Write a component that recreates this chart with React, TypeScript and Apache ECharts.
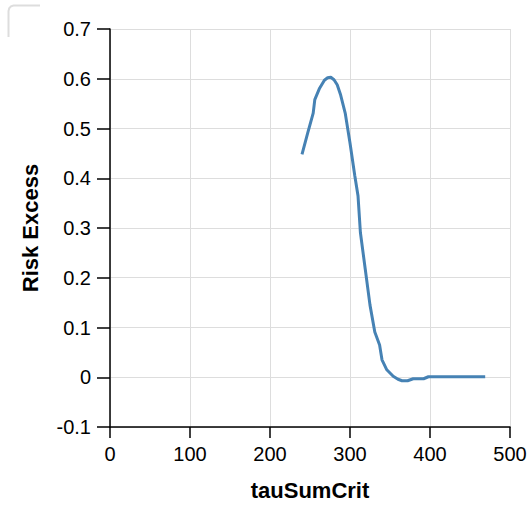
import React, { useEffect, useRef } from "react";
import * as echarts from "echarts";

const tauSumCrit = [240, 247, 254, 256, 262, 268, 272, 276, 280, 284, 288, 294, 300, 306, 310, 313, 319, 325, 331, 337, 340, 346, 354, 360, 365, 372, 379, 392, 398, 469];
const riskExcess = [0.448, 0.49, 0.531, 0.558, 0.581, 0.597, 0.602, 0.603, 0.598, 0.588, 0.569, 0.531, 0.471, 0.405, 0.365, 0.291, 0.218, 0.145, 0.091, 0.065, 0.035, 0.015, 0.002, -0.004, -0.007, -0.007, -0.003, -0.003, 0.001, 0.001];

const xTitle = "tauSumCrit";
const yTitle = "Risk Excess";

export default function App() {
  const ref = useRef<HTMLDivElement>(null);
  useEffect(() => {
    if (!ref.current) return;
    const chart = echarts.init(ref.current, null, { renderer: "svg" });
    const font = "Liberation Sans, Arial, Helvetica, sans-serif";
    chart.setOption({
      animation: false,
      grid: { left: 110, right: 22, top: 29, bottom: 77, containLabel: false },
      graphic: [
        {
          type: "polyline",
          shape: { points: [[8.5, 37], [8.5, 11], [9.2, 8.2], [11, 6.3], [13.5, 5.5], [40, 5.5]] },
          style: { stroke: "#dddddd", lineWidth: 2, fill: "none" },
        },
      ],
      xAxis: {
        type: "value",
        min: 0,
        max: 500,
        interval: 100,
        name: xTitle,
        nameLocation: "middle",
        nameGap: 63,
        nameTextStyle: { fontFamily: font, fontSize: 22, fontWeight: "bold", color: "#000", verticalAlign: "middle" },
        axisLine: { onZero: false, lineStyle: { color: "#000", width: 1.5 } },
        axisTick: { show: true, length: 11, lineStyle: { color: "#000", width: 1.5 } },
        axisLabel: { fontFamily: font, fontSize: 20, color: "#000", margin: 17 },
        splitLine: { show: true, lineStyle: { color: "#dddddd", width: 1 } },
      },
      yAxis: {
        type: "value",
        min: -0.1,
        max: 0.7,
        interval: 0.1,
        name: yTitle,
        nameLocation: "middle",
        nameGap: 80,
        nameTextStyle: { fontFamily: font, fontSize: 22, fontWeight: "bold", color: "#000", verticalAlign: "middle" },
        axisLine: { show: true, onZero: false, lineStyle: { color: "#000", width: 1.5 } },
        axisTick: { show: true, length: 13, lineStyle: { color: "#000", width: 1.5 } },
        axisLabel: {
          fontFamily: font,
          fontSize: 20,
          color: "#000",
          margin: 19,
          formatter: (v: number) => String(Number(v.toFixed(1))),
        },
        splitLine: { show: true, lineStyle: { color: "#dddddd", width: 1 } },
      },
      series: [
        {
          type: "line",
          data: tauSumCrit.map((x, i) => [x, riskExcess[i]]),
          showSymbol: false,
          symbol: "none",
          lineStyle: { color: "#4682b4", width: 3 },
          itemStyle: { color: "#4682b4" },
        },
      ],
    });
    return () => chart.dispose();
  }, []);
  return (
    <div
      ref={ref}
      style={{ position: "absolute", left: 0, top: 0, width: 532, height: 506 }}
    />
  );
}
